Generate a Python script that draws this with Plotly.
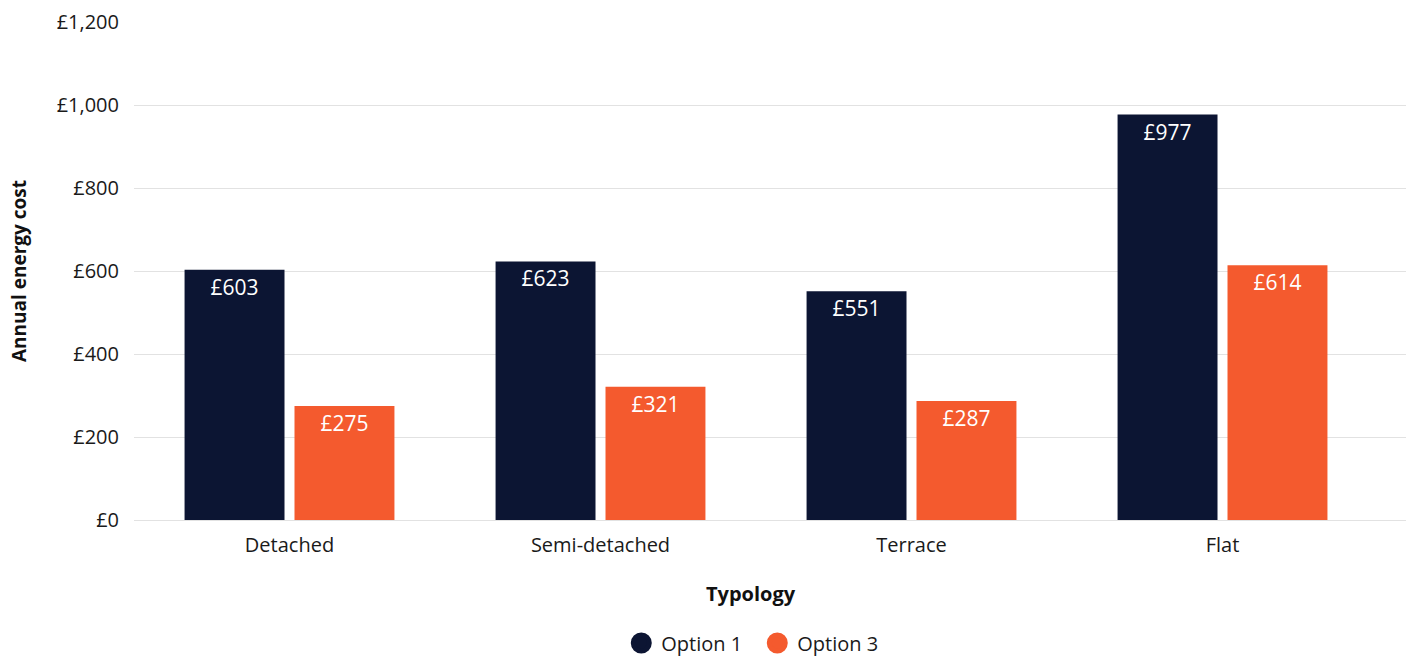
import plotly.graph_objects as go

categories = ["Detached", "Semi-detached", "Terrace", "Flat"]
option1 = [603, 623, 551, 977]
option3 = [275, 321, 287, 614]
series_names = ["Option 1", "Option 3"]
y_ticks = [0, 200, 400, 600, 800, 1000, 1200]
y_tick_labels = ["£0", "£200", "£400", "£600", "£800", "£1,000", "£1,200"]

NAVY = "#0C1533"
ORANGE = "#F45A2E"
FONT = "Open Sans"

fig = go.Figure()
for name, vals, col in [(series_names[0], option1, NAVY), (series_names[1], option3, ORANGE)]:
    fig.add_trace(go.Bar(
        x=categories, y=vals, name=name, marker=dict(color=col, line=dict(width=0)),
        text=[f"£{v}" for v in vals], textposition="inside", insidetextanchor="end",
        textfont=dict(color="white", size=21, family=FONT), textangle=0,
        showlegend=False, hoverinfo="skip"))
for name, col in [(series_names[0], NAVY), (series_names[1], ORANGE)]:
    fig.add_trace(go.Scatter(
        x=[None], y=[None], mode="markers", name=name,
        marker=dict(color=col, size=16, symbol="circle", line=dict(color=col, width=5)),
        showlegend=True))

fig.update_layout(
    width=1412, height=657,
    margin=dict(l=134, r=6, t=22, b=137, autoexpand=False),
    paper_bgcolor="white", plot_bgcolor="white",
    barmode="group", bargap=0.293, bargroupgap=0.091,
    font=dict(family=FONT, size=20, color="#1a1a1a"),
    showlegend=True,
    legend=dict(orientation="h", x=0.49, xanchor="center", y=-0.247, yanchor="middle",
                font=dict(size=20, family=FONT), itemsizing="trace", traceorder="normal",
                entrywidth=91),
    annotations=[dict(text="<b>Typology</b>", xref="paper", yref="paper", x=0.485, y=-0.1466,
                      xanchor="center", yanchor="middle", showarrow=False,
                      font=dict(size=20, family=FONT, color="#111"))],
)
fig.update_xaxes(
    range=[-0.5, 3.59], showgrid=False, showline=False, zeroline=False,
    tickfont=dict(size=20, family=FONT, color="#1a1a1a"), ticks="", ticklabelstandoff=11,
)
fig.update_yaxes(
    range=[0, 1200], tickvals=y_ticks, ticktext=y_tick_labels,
    showgrid=True, gridcolor="#E2E2E2", gridwidth=1,
    zeroline=True, zerolinecolor="#E2E2E2", zerolinewidth=1, showline=False,
    tickfont=dict(size=20, family=FONT, color="#1a1a1a"), ticks="", ticklabelstandoff=14,
    title=dict(text="<b>Annual energy cost</b>", font=dict(size=19, family=FONT, color="#111"), standoff=24),
)

fig.write_html("out.html")
